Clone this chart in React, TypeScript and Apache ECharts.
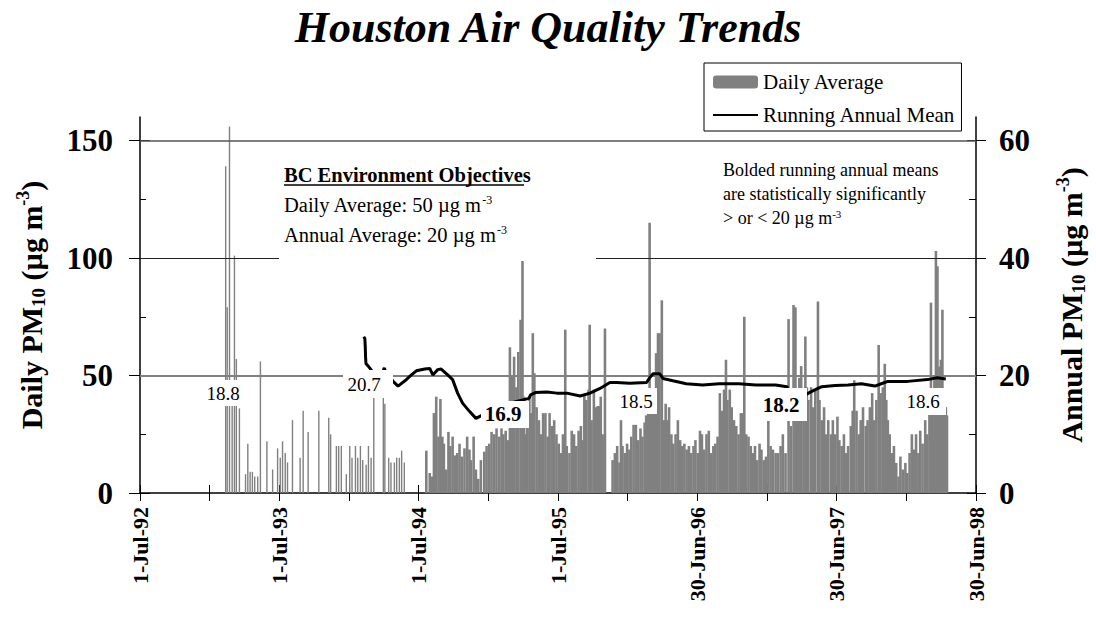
import React, { useEffect, useRef } from 'react';
import * as echarts from 'echarts';

const FONT = "'Liberation Serif', 'Times New Roman', serif";

// x axis: days since 1-Jul-92, one major tick every 365 days
const xTickLabels = ['1-Jul-92', '1-Jul-93', '1-Jul-94', '1-Jul-95', '30-Jun-96', '30-Jun-97', '30-Jun-98'];
const leftTicks = [0, 50, 100, 150];
const leftMinorTicks = [25, 75, 125];
const rightTicks = [0, 20, 40, 60];
const rightMinorTicks = [10, 30, 50];
const gridValues = [50, 100, 150];

// 1993-94: every-sixth-day sampling (days since 1-Jul-92, daily PM10)
const sparseDays = [226, 230, 236, 243, 249, 254, 262, 278, 284, 290, 296, 302, 310, 317, 334, 349, 362, 369, 375, 382, 388, 401, 421, 429, 442, 470, 496, 501, 516, 522, 529, 542, 551, 557, 566, 572, 579, 585, 594, 600, 607, 614, 639, 643, 653, 659, 668, 674, 681, 687, 694];
const sparseValues = [139, 79, 156, 45, 101, 57, 36, 8, 21, 9, 9, 7, 7, 56, 22, 10, 19, 15, 22, 17, 13, 31, 15, 35, 26, 35, 32, 25, 20, 20, 20, 8, 20, 15, 20, 15, 20, 14, 12, 20, 15, 46, 44, 38, 15, 13, 13, 15, 15, 18, 13];

// daily monitoring 1994-95 (read at ~6 day resolution)
const days1 = [750, 759, 765, 770, 776, 782, 787, 792, 796, 802, 808, 813, 819, 825, 831, 837, 843, 850, 857, 863, 867, 874, 880, 886, 893, 902, 908, 915, 921, 928, 934, 941, 947, 952, 958, 964, 969, 975, 980, 986, 991, 997, 1002, 1006, 1010, 1014, 1020, 1025, 1029, 1033, 1039, 1045, 1051, 1056, 1062, 1068, 1073, 1079, 1085, 1091, 1097, 1103, 1108, 1114, 1118, 1125, 1131, 1137, 1143, 1149, 1155, 1160, 1164, 1169, 1175, 1178, 1183, 1189, 1195];
const values1 = [18, 8.5, 7, 34, 41, 24, 40, 24, 21, 10, 26, 20, 24, 16, 17, 21, 15.5, 19, 24, 18.5, 14, 24, 10, 6, 14, 17.6, 20, 21, 26, 25, 27.5, 24, 27.5, 25, 26.5, 22.5, 62, 49.6, 58, 45, 60, 73.7, 99, 41, 25, 31, 41, 34, 68, 51, 36.5, 31, 25, 34, 34, 24, 34, 28.5, 31, 25, 21, 17, 25, 69.5, 20, 17, 26.5, 25, 20, 26.5, 28.5, 22.5, 42, 39.6, 44, 71.6, 31, 44, 36.5];

// 1995-97
const days2 = [1199, 1204, 1207, 1212, 1218, 1238, 1244, 1250, 1256, 1260, 1264, 1270, 1276, 1282, 1287, 1293, 1299, 1305, 1311, 1316, 1322, 1326, 1331, 1335, 1339, 1344, 1348, 1352, 1357, 1361, 1367, 1372, 1377, 1381, 1386, 1392, 1397, 1403, 1409, 1415, 1420, 1426, 1432, 1438, 1444, 1450, 1455, 1461, 1467, 1472, 1478, 1484, 1490, 1496, 1502, 1507, 1513, 1519, 1524, 1530, 1535, 1539, 1545, 1550, 1556, 1562, 1568, 1574, 1578, 1583, 1588, 1594, 1600, 1606, 1611, 1617, 1623, 1628, 1634, 1640, 1646, 1652, 1658];
const values2 = [37, 37, 41, 25, 70, 14, 17, 20, 13, 31, 20, 17, 21, 18.5, 24, 29, 29, 22.5, 27.5, 24, 30, 33, 34, 115, 34, 34, 34, 59.5, 68, 68, 82, 31, 38, 31, 36.5, 25, 21, 25, 31, 22.5, 20, 21, 18.5, 20, 17, 20, 22.5, 17, 26.5, 25, 18.5, 25, 26.5, 17, 20, 21, 24, 42.5, 35, 44, 56.7, 39.6, 44, 36.5, 31, 28.5, 25, 34, 34, 75, 25, 24, 20, 17, 20, 14, 21, 18.5, 14, 15.5, 31, 20, 18.5];

// 1997-98
const days3 = [1665, 1671, 1678, 1684, 1691, 1699, 1705, 1712, 1717, 1721, 1727, 1732, 1738, 1743, 1747, 1751, 1758, 1763, 1769, 1776, 1780, 1786, 1792, 1797, 1803, 1810, 1815, 1821, 1827, 1832, 1838, 1844, 1849, 1855, 1862, 1867, 1871, 1877, 1883, 1888, 1894, 1901, 1906, 1912, 1918, 1923, 1929, 1935, 1940, 1946, 1951, 1955, 1959, 1964, 1970, 1975, 1981, 1987, 1992, 1998, 2005, 2010, 2016, 2022, 2027, 2033, 2039, 2044, 2050, 2057, 2062, 2068, 2072, 2076, 2081, 2085, 2089, 2094, 2098, 2102, 2107, 2111, 2114];
const values3 = [17, 17, 20, 25, 17, 74, 28.5, 80, 79, 42.5, 49, 54, 42.5, 66.6, 45, 39.6, 45, 36.5, 44, 81.5, 39.6, 31, 36.5, 25, 31, 25, 31, 25, 32.5, 22.5, 20, 25, 17, 20, 28.5, 35, 48, 35, 25, 31, 36.5, 28.5, 31, 36.5, 42.5, 31, 39.6, 63, 42.5, 45, 55, 39.6, 31, 25, 17, 20, 12.8, 7, 15.5, 10, 12.8, 8.5, 17, 25, 18.5, 25, 17, 26.5, 21, 31, 25, 34, 81, 35, 48, 103, 96.5, 53.8, 56.7, 78, 39.6, 36.5, 33];

// running annual mean (right axis)
const meanDays = [586, 589, 590, 591, 592, 598, 611, 625, 636, 640, 644, 655, 663, 676, 694, 711, 724, 746, 759, 767, 780, 789, 806, 819, 832, 845, 863, 880, 949, 1019, 1023, 1036, 1066, 1092, 1118, 1153, 1179, 1205, 1231, 1248, 1283, 1327, 1335, 1344, 1361, 1370, 1396, 1431, 1474, 1517, 1569, 1613, 1665, 1695, 1700, 1743, 1751, 1769, 1786, 1821, 1855, 1890, 1925, 1942, 1959, 2011, 2063, 2089, 2111];
const meanValues = [26.6, 26.3, 25.0, 23.0, 22.0, 21.6, 20.5, 20.5, 20.6, 21.3, 20.5, 19.8, 19.0, 18.2, 19.1, 20.1, 20.8, 21.1, 21.2, 20.1, 21.0, 21.1, 20.1, 19.3, 17.0, 15.3, 13.9, 12.7, 15.0, 16.1, 16.7, 17.1, 17.2, 17.0, 17.0, 16.5, 17.0, 17.8, 18.8, 18.8, 18.7, 18.8, 19.6, 20.3, 20.3, 19.5, 19.1, 18.6, 18.4, 18.6, 18.6, 18.4, 18.4, 18.1, 16.8, 16.7, 17.0, 17.6, 18.1, 18.3, 18.4, 18.6, 18.2, 18.6, 19.0, 19.0, 19.3, 19.6, 19.4];

// annual mean annotations
const meanLabels = ['18.8', '20.7', '16.9', '18.5', '18.2', '18.6'];
const meanLabelBold = [false, false, true, false, true, false];

function buildOption() {
  const sparseData = sparseDays.map((d, i) => [d, sparseValues[i]]);
  const denseDays = [...days1, ...days2, ...days3];
  const denseVals = [...values1, ...values2, ...values3];
  const denseData = denseDays.map((d, i) => [d, denseVals[i]]);
  const meanData = meanDays.map((d, i) => [d, meanValues[i]]);

  const black = '#000';
  const rich = {
    b: { fontSize: 30, fontWeight: 'bold', fontFamily: FONT, color: black, lineHeight: 34 },
    s: { fontSize: 19, fontWeight: 'bold', fontFamily: FONT, color: black, lineHeight: 21, verticalAlign: 'bottom' },
    p: { fontSize: 18, fontWeight: 'bold', fontFamily: FONT, color: black, lineHeight: 18, verticalAlign: 'top' },
  };
  const axisName = (pre: string) => `{b|${pre} PM}{s|10}{b| (µg m}{p|-3}{b|)}`;
  const tickLabel = { fontSize: 31, fontWeight: 'bold', fontFamily: FONT, color: black };

  // label boxes: [cx, cy, boxX, boxY, boxW, boxH]
  const boxGeom = [
    [223, 393, 200, 380, 46, 26],
    [364, 384, 343, 370, 50, 28],
    [503, 414, 481, 401, 48, 27],
    [636, 401, 614, 388, 43, 26],
    [781, 405, 757, 388, 50, 33],
    [923, 401, 902, 388, 44, 27],
  ];
  const labelGraphics: any[] = [];
  meanLabels.forEach((t, i) => {
    const g = boxGeom[i];
    labelGraphics.push({ type: 'rect', z: 100, shape: { x: g[2], y: g[3], width: g[4], height: g[5] }, style: { fill: '#fff' } });
    labelGraphics.push({
      type: 'text', z: 101, x: g[0], y: g[1],
      style: {
        text: t, fill: black, fontFamily: FONT, fontSize: meanLabelBold[i] ? 21 : 19,
        fontWeight: meanLabelBold[i] ? 'bold' : 'normal',
        align: 'center', verticalAlign: 'middle', textAlign: 'center', textVerticalAlign: 'middle',
      },
    });
  });

  const textRich = (size: number) => ({
    a: { fontSize: size, fontFamily: FONT, fill: black, color: black, lineHeight: size + 2 },
    p: { fontSize: Math.round(size * 0.6), fontFamily: FONT, fill: black, color: black, lineHeight: size + 2, verticalAlign: 'top' },
  });

  const graphic = [
    { type: 'rect', z: 100, shape: { x: 279, y: 150, width: 317, height: 111 }, style: { fill: '#fff' } },
    { type: 'text', z: 101, x: 284, y: 175, style: { text: 'BC Environment Objectives', fill: black, fontFamily: FONT, fontSize: 20.5, fontWeight: 'bold', align: 'left', verticalAlign: 'middle', textAlign: 'left', textVerticalAlign: 'middle' } },
    { type: 'line', z: 101, shape: { x1: 284, y1: 185, x2: 524, y2: 185 }, style: { stroke: black, lineWidth: 1.5 } },
    { type: 'text', z: 101, x: 284, y: 205, style: { text: '{a|Daily Average: 50 µg m}{p|-3}', rich: textRich(20.5), align: 'left', verticalAlign: 'middle', textAlign: 'left', textVerticalAlign: 'middle' } },
    { type: 'text', z: 101, x: 284, y: 235, style: { text: '{a|Annual Average: 20 µg m}{p|-3}', rich: textRich(20.5), align: 'left', verticalAlign: 'middle', textAlign: 'left', textVerticalAlign: 'middle' } },
    { type: 'text', z: 101, x: 723, y: 170, style: { text: 'Bolded running annual means', fill: black, fontFamily: FONT, fontSize: 18, align: 'left', verticalAlign: 'middle', textAlign: 'left', textVerticalAlign: 'middle' } },
    { type: 'text', z: 101, x: 723, y: 194, style: { text: 'are statistically significantly', fill: black, fontFamily: FONT, fontSize: 18, align: 'left', verticalAlign: 'middle', textAlign: 'left', textVerticalAlign: 'middle' } },
    { type: 'text', z: 101, x: 723, y: 218, style: { text: '{a|> or < 20 µg m}{p|-3}', rich: textRich(18), align: 'left', verticalAlign: 'middle', textAlign: 'left', textVerticalAlign: 'middle' } },
    ...labelGraphics,
  ];

  const hidden = { show: false };
  const innerY = (pos: string, max: number, vals: number[], len: number) => ({
    type: 'value', position: pos, min: 0, max,
    axisLine: hidden, axisLabel: hidden, splitLine: hidden,
    axisTick: { show: true, inside: true, length: len, customValues: vals, lineStyle: { color: black, width: 1 } },
  });

  return {
    animation: false,
    backgroundColor: '#fff',
    title: {
      text: 'Houston Air Quality Trends', left: 'center', top: 0,
      textStyle: { fontFamily: FONT, fontSize: 44, fontWeight: 'bold', fontStyle: 'italic', color: black },
    },
    legend: {
      orient: 'vertical', left: 704, top: 63,
      data: [
        { name: 'Daily Average' },
        { name: 'Running Annual Mean', itemStyle: { opacity: 0 } },
      ],
      itemWidth: 45, itemHeight: 13, itemGap: 11,
      padding: [8, 6, 5, 8],
      borderColor: black, borderWidth: 1, borderRadius: 0, backgroundColor: '#fff',
      selectedMode: false,
      textStyle: { fontFamily: FONT, fontSize: 21, color: black, lineHeight: 22 },
    },
    grid: { left: 140, right: 114, top: 117, bottom: 128 },
    xAxis: [
      {
        type: 'value', position: 'bottom', min: 0, max: 2190, interval: 182.5,
        axisLine: { show: true, lineStyle: { color: black, width: 1.5 } },
        axisTick: { show: true, length: 8, lineStyle: { color: black, width: 1 } },
        splitLine: hidden,
        axisLabel: {
          rotate: 90, margin: 14, fontSize: 22, fontWeight: 'bold', fontFamily: FONT, color: black,
          formatter: (v: number) => {
            const k = Math.round(v / 365);
            return Math.abs(v - k * 365) < 1e-6 ? xTickLabels[k] : '';
          },
        },
      },
      {
        type: 'value', position: 'bottom', min: 0, max: 2190, interval: 182.5,
        axisLine: hidden, axisLabel: hidden, splitLine: hidden,
        axisTick: { show: true, inside: true, length: 8, lineStyle: { color: black, width: 1 } },
      },
    ],
    yAxis: [
      {
        type: 'value', position: 'left', min: 0, max: 160,
        axisLine: { show: true, lineStyle: { color: black, width: 1.5 } },
        axisTick: { show: true, length: 11, customValues: leftTicks, lineStyle: { color: black, width: 1 } },
        axisLabel: { ...tickLabel, margin: 27, customValues: leftTicks },
        splitLine: hidden,
        name: axisName('Daily'), nameLocation: 'middle', nameRotate: 90, nameGap: 92,
        nameTextStyle: { rich },
      },
      innerY('left', 160, leftTicks, 10),
      innerY('left', 160, leftMinorTicks, 6),
      {
        type: 'value', position: 'right', min: 0, max: 64,
        axisLine: { show: true, lineStyle: { color: black, width: 1.5 } },
        axisTick: { show: true, length: 10, customValues: rightTicks, lineStyle: { color: black, width: 1 } },
        axisLabel: { ...tickLabel, margin: 23, customValues: rightTicks },
        splitLine: hidden,
        name: axisName('Annual'), nameLocation: 'middle', nameRotate: 90, nameGap: 78,
        nameTextStyle: { rich },
      },
      innerY('right', 64, rightTicks, 9),
      innerY('right', 64, rightMinorTicks, 7),
    ],
    series: [
      {
        name: 'grid', type: 'line', xAxisIndex: 0, yAxisIndex: 0, data: [], z: 1, silent: true,
        markLine: {
          silent: true, symbol: ['none', 'none'], label: { show: false },
          data: gridValues.map((v, i) => ({
            yAxis: v,
            lineStyle: [
              { color: '#808080', width: 2, type: 'solid' },
              { color: '#222', width: 1, type: 'solid' },
              { color: '#555', width: 1.5, type: 'solid' },
            ][i],
          })),
        },
      },
      {
        name: 'Daily Average', type: 'bar', xAxisIndex: 0, yAxisIndex: 0, data: sparseData,
        barWidth: 1.4, barGap: '-100%', itemStyle: { color: '#808080' }, z: 2,
      },
      {
        name: 'Daily Average', type: 'bar', xAxisIndex: 0, yAxisIndex: 0, data: denseData,
        barWidth: 2.6, barGap: '-100%', itemStyle: { color: '#808080' }, z: 2,
      },
      {
        name: 'Running Annual Mean', type: 'line', xAxisIndex: 0, yAxisIndex: 3, data: meanData,
        symbol: 'none', showSymbol: false, lineStyle: { color: black, width: 3 },
        itemStyle: { color: black, opacity: 0 }, z: 5,
      },
    ],
    graphic,
  };
}

export default function App() {
  const ref = useRef<HTMLDivElement>(null);
  useEffect(() => {
    const chart = echarts.init(ref.current!, undefined, { renderer: 'svg' });
    chart.setOption(buildOption() as any);
    return () => chart.dispose();
  }, []);
  return (
    <div
      ref={ref}
      style={{ position: 'absolute', left: 0, top: 0, width: 1096, height: 621, background: '#fff' }}
    />
  );
}
